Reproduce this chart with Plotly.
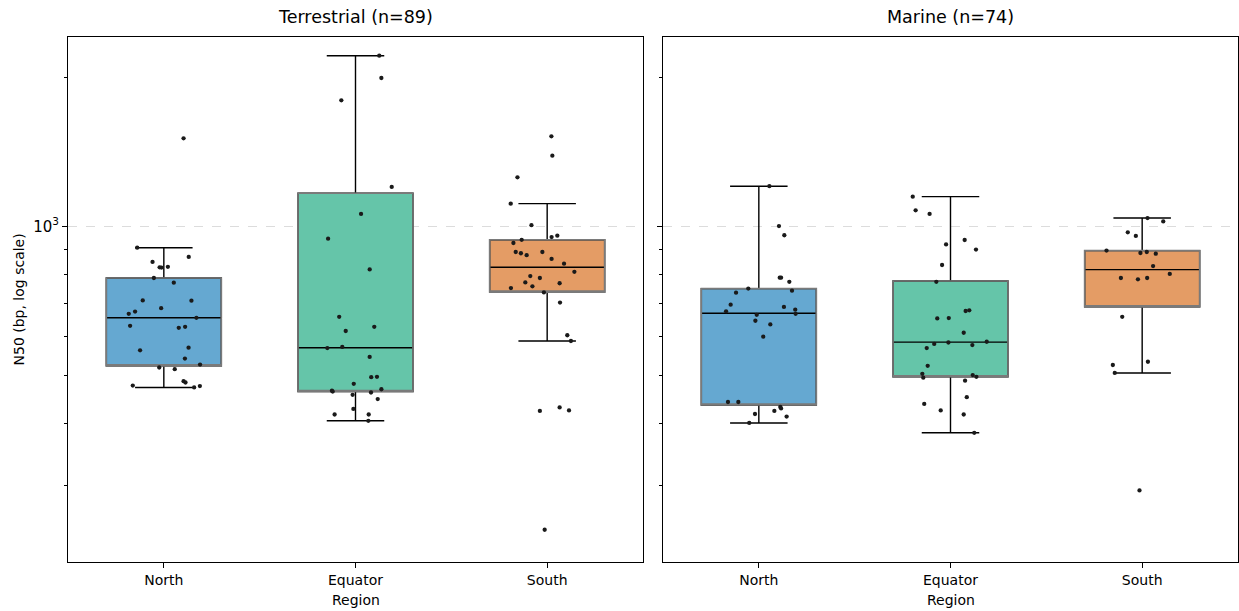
import plotly.graph_objects as go
from plotly.subplots import make_subplots

regions = ["North", "Equator", "South"]
panel_titles = ["Terrestrial (n=89)", "Marine (n=74)"]
box_colors = ["#65a8d1", "#65c5a9", "#e49c65"]

# Box statistics (North, Equator, South)
terr_q1 = [523, 464, 737]
terr_med = [654, 569, 827]
terr_q3 = [787, 1167, 940]
terr_lo = [473, 405, 587]
terr_hi = [906, 2213, 1112]

mar_q1 = [436, 497, 688]
mar_med = [668, 584, 818]
mar_q3 = [749, 776, 894]
mar_lo = [401, 383, 506]
mar_hi = [1206, 1149, 1040]

# Individual samples (N50, bp) and their horizontal jitter
terr_north_vals = [906, 868, 848, 827, 826, 829, 787, 770, 709, 708, 684, 673, 666, 654, 630,
                   624, 627, 562, 569, 541, 526, 519, 515, 487, 484, 477, 476, 473, 1507]
terr_north_jit = [-0.139, 0.130, -0.059, -0.022, -0.012, 0.021, -0.052, 0.052, -0.110, 0.144,
                  -0.014, -0.150, -0.183, 0.170, -0.176, 0.078, 0.111, -0.124, 0.129, 0.110,
                  0.189, -0.024, 0.057, 0.103, 0.113, -0.162, 0.188, 0.158, 0.103]

terr_equator_vals = [2213, 1995, 1798, 1202, 1060, 945, 819, 657, 627, 615, 568, 571, 545, 496,
                     497, 481, 466, 464, 469, 462, 457, 448, 428, 417, 417, 405]
terr_equator_jit = [0.124, 0.135, -0.074, 0.189, 0.029, -0.143, 0.074, -0.085, 0.098, -0.051,
                    -0.147, -0.069, 0.074, 0.082, 0.112, -0.009, -0.123, -0.119, 0.135, 0.081,
                    -0.015, 0.116, -0.011, -0.109, 0.069, 0.067]

terr_south_vals = [1521, 1390, 1257, 1112, 1006, 952, 958, 940, 926, 888, 883, 875, 888, 860, 841,
                   810, 794, 787, 771, 757, 768, 751, 736, 702, 603, 587, 424, 431, 425, 244]
terr_south_jit = [0.022, 0.027, -0.155, -0.190, -0.082, 0.023, 0.053, -0.133, -0.176, -0.164,
                  -0.137, -0.107, -0.025, 0.023, 0.088, 0.142, -0.088, -0.038, -0.114, -0.077,
                  0.065, -0.189, -0.017, 0.067, 0.105, 0.124, -0.038, 0.065, 0.114, -0.013]

mar_north_vals = [1206, 1002, 960, 788, 788, 773, 749, 742, 735, 695, 688, 674, 679, 666, 663,
                  645, 634, 599, 442, 442, 432, 429, 424, 418, 413, 401]
mar_north_jit = [0.055, 0.105, 0.133, 0.109, 0.116, 0.159, -0.055, 0.173, -0.119, -0.147,
                 0.131, -0.171, 0.190, 0.192, -0.011, -0.018, 0.060, 0.023, -0.161, -0.107,
                 0.112, 0.116, 0.081, -0.020, 0.145, -0.050]

mar_equator_vals = [1149, 1078, 1060, 939, 920, 898, 836, 773, 675, 677, 652, 653, 610, 579, 583,
                    576, 585, 568, 523, 504, 495, 501, 497, 488, 452, 438, 425, 417, 383]
mar_equator_jit = [-0.197, -0.182, -0.109, 0.074, -0.023, 0.133, -0.044, -0.074, 0.079, 0.098,
                   -0.069, -0.009, 0.069, -0.085, -0.011, 0.114, 0.189, -0.124, -0.119, -0.147,
                   -0.142, 0.116, 0.135, 0.076, 0.085, -0.137, -0.051, 0.069, 0.124]

mar_south_vals = [1040, 1024, 973, 957, 894, 884, 888, 881, 832, 802, 787, 782, 787, 657, 525,
                  533, 506, 293]
mar_south_jit = [0.028, 0.110, -0.075, -0.033, -0.186, -0.009, 0.024, 0.071, 0.057, 0.144,
                 -0.111, -0.022, 0.026, -0.104, -0.153, 0.030, -0.143, -0.014]

y_minor_ticks = [300, 400, 500, 600, 700, 800, 900, 2000]

panels = [
    dict(q1=terr_q1, med=terr_med, q3=terr_q3, lo=terr_lo, hi=terr_hi,
         pts=[(terr_north_vals, terr_north_jit), (terr_equator_vals, terr_equator_jit),
              (terr_south_vals, terr_south_jit)]),
    dict(q1=mar_q1, med=mar_med, q3=mar_q3, lo=mar_lo, hi=mar_hi,
         pts=[(mar_north_vals, mar_north_jit), (mar_equator_vals, mar_equator_jit),
              (mar_south_vals, mar_south_jit)]),
]

W, H = 1239, 611
L, R, T, B = 68, 1, 37, 49
plot_w = W - L - R
plot_h = H - T - B
gap = 20

fig = make_subplots(rows=1, cols=2, horizontal_spacing=gap / plot_w)

for c, p in enumerate(panels, start=1):
    for i in range(3):
        fig.add_trace(go.Box(
            x=[i], q1=[p["q1"][i]], median=[p["med"][i]], q3=[p["q3"][i]],
            lowerfence=[p["lo"][i]], upperfence=[p["hi"][i]],
            fillcolor=box_colors[i], line=dict(color="black", width=1.4),
            width=0.6, whiskerwidth=0.5, boxpoints=False, showlegend=False,
            hoverinfo="skip"), row=1, col=c)
        # grey box outline on top
        fig.add_trace(go.Box(
            x=[i], q1=[p["q1"][i]], median=[p["q1"][i]], q3=[p["q3"][i]],
            lowerfence=[p["q1"][i]], upperfence=[p["q3"][i]],
            fillcolor="rgba(0,0,0,0)", line=dict(color="#7a7a7a", width=1.6),
            width=0.6, whiskerwidth=0, boxpoints=False, showlegend=False,
            hoverinfo="skip"), row=1, col=c)
    for i, (vals, jit) in enumerate(p["pts"]):
        fig.add_trace(go.Scatter(
            x=[i + j for j in jit], y=vals, mode="markers",
            marker=dict(size=4.3, color="#1a1a1a"), showlegend=False,
            hoverinfo="skip"), row=1, col=c)

font = "DejaVu Sans"
axis_common = dict(showline=True, linecolor="black", linewidth=1, mirror=True,
                   zeroline=False, ticks="outside", tickcolor="black")

for c in (1, 2):
    fig.update_xaxes(range=[-0.5, 2.5], tickvals=[0, 1, 2], ticktext=regions,
                     showgrid=False, ticklen=5, tickfont=dict(size=14, color="black"),
                     **axis_common, row=1, col=c)
    fig.update_yaxes(type="log", range=[2.3222, 3.3828], tickvals=[1000],
                     ticktext=["10<sup>3</sup>"], ticklen=5,
                     showgrid=True, gridcolor="#dcdcdc", griddash="dash", gridwidth=1,
                     minor=dict(tickmode="array", tickvals=y_minor_ticks, ticks="outside",
                                ticklen=3, tickcolor="black", showgrid=False),
                     tickfont=dict(size=15, color="black"), showticklabels=(c == 1),
                     **axis_common, row=1, col=c)

dom1 = [0, (plot_w - gap) / 2 / plot_w]
dom2 = [1 - (plot_w - gap) / 2 / plot_w, 1]
fig.update_layout(xaxis=dict(domain=dom1), xaxis2=dict(domain=dom2))

annotations = []
for dom, title in zip((dom1, dom2), panel_titles):
    cx = (dom[0] + dom[1]) / 2
    annotations.append(dict(text=title, x=cx, y=1 + 20 / plot_h, xref="paper", yref="paper",
                            xanchor="center", yanchor="middle", showarrow=False,
                            font=dict(size=17.5, color="black", family=font)))
    annotations.append(dict(text="Region", x=cx, y=-38 / plot_h, xref="paper", yref="paper",
                            xanchor="center", yanchor="middle", showarrow=False,
                            font=dict(size=14, color="black", family=font)))
annotations.append(dict(text="N50 (bp, log scale)", x=-50 / plot_w, y=0.5, xref="paper",
                        yref="paper", xanchor="center", yanchor="middle", textangle=-90,
                        showarrow=False, font=dict(size=14, color="black", family=font)))

fig.update_layout(
    width=W, height=H, margin=dict(l=L, r=R, t=T, b=B, autoexpand=False),
    paper_bgcolor="white", plot_bgcolor="white", boxmode="overlay",
    font=dict(family=font, color="black"), annotations=annotations,
)

fig.write_html("out.html", config={"displayModeBar": False},
               post_script="document.body.style.margin='0';document.body.style.overflow='hidden';")
